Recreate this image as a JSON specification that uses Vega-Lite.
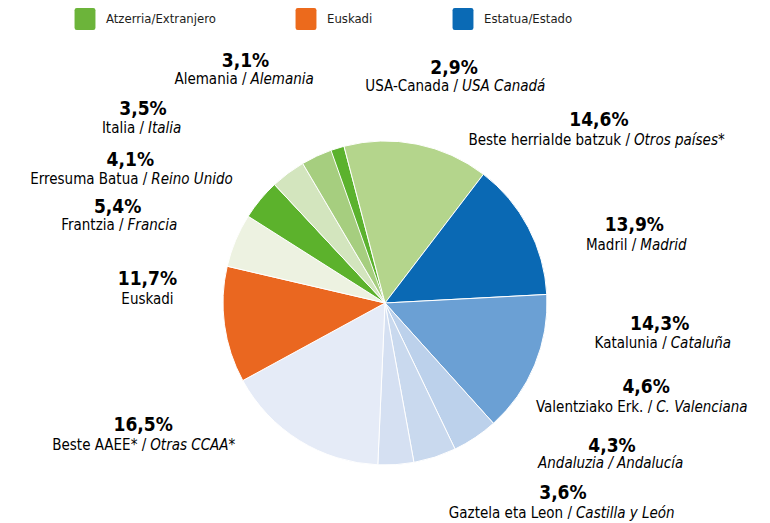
{
  "$schema": "https://vega.github.io/schema/vega-lite/v6.json",
  "width": 770,
  "height": 440,
  "autosize": {"type": "none"},
  "padding": {"top": 83, "left": 0, "right": 0, "bottom": 0},
  "background": "#ffffff",
  "config": {
    "view": {"stroke": null},
    "locale": {"number": {"decimal": ",", "thousands": ".", "grouping": [3], "currency": ["", " €"]}},
    "style": {
      "pct": {"font": "DejaVu Sans Condensed", "fontWeight": "bold", "fontSize": 19, "align": "center", "baseline": "middle", "fill": "#1d1d1b"},
      "eu": {"font": "DejaVu Sans Condensed", "fontSize": 15, "align": "right", "baseline": "middle", "fill": "#1d1d1b"},
      "es": {"font": "DejaVu Sans Condensed", "fontSize": 15, "fontStyle": "italic", "align": "left", "baseline": "middle", "fill": "#1d1d1b"}
    }
  },
  "data": {
    "values": [
      {"rank": 1, "eu": "USA-Canada", "es": "USA Canadá", "share": 2.9, "group": "Atzerria/Extranjero"},
      {"rank": 2, "eu": "Beste herrialde batzuk", "es": "Otros países*", "share": 14.6, "group": "Atzerria/Extranjero"},
      {"rank": 3, "eu": "Madril", "es": "Madrid", "share": 13.9, "group": "Estatua/Estado"},
      {"rank": 4, "eu": "Katalunia", "es": "Cataluña", "share": 14.3, "group": "Estatua/Estado"},
      {"rank": 5, "eu": "Valentziako Erk.", "es": "C. Valenciana", "share": 4.6, "group": "Estatua/Estado"},
      {"rank": 6, "eu": "Andaluzia", "es": "Andalucía", "share": 4.3, "group": "Estatua/Estado"},
      {"rank": 7, "eu": "Gaztela eta Leon", "es": "Castilla y León", "share": 3.6, "group": "Estatua/Estado"},
      {"rank": 8, "eu": "Beste AAEE*", "es": "Otras CCAA*", "share": 16.5, "group": "Estatua/Estado"},
      {"rank": 9, "eu": "Euskadi", "es": "", "share": 11.7, "group": "Euskadi"},
      {"rank": 10, "eu": "Frantzia", "es": "Francia", "share": 5.4, "group": "Atzerria/Extranjero"},
      {"rank": 11, "eu": "Erresuma Batua", "es": "Reino Unido", "share": 4.1, "group": "Atzerria/Extranjero"},
      {"rank": 12, "eu": "Italia", "es": "Italia", "share": 3.5, "group": "Atzerria/Extranjero"},
      {"rank": 13, "eu": "Alemania", "es": "Alemania", "share": 3.1, "group": "Atzerria/Extranjero"}
    ]
  },
  "transform": [
    {"stack": "share", "groupby": [], "sort": [{"field": "rank", "order": "ascending"}], "as": ["t0", "t1"]},
    {"calculate": "(datum.t0 + datum.t1) / 2", "as": "tm"},
    {"calculate": "datum.share / 100", "as": "frac"},
    {"calculate": "datum.es ? datum.eu + ' /' : datum.eu", "as": "eu_txt"}
  ],
  "layer": [
    {
      "mark": {"type": "arc", "outerRadius": 162, "stroke": "#ffffff", "strokeWidth": 1},
      "encoding": {
        "theta": {"field": "t0", "type": "quantitative", "stack": null, "scale": {"range": [-0.43633, 5.84686], "nice": false, "zero": true}},
        "theta2": {"field": "t1"},
        "fill": {
          "field": "eu", "type": "nominal", "legend": null,
          "scale": {
            "domain": ["USA-Canada", "Beste herrialde batzuk", "Madril", "Katalunia", "Valentziako Erk.", "Andaluzia", "Gaztela eta Leon", "Beste AAEE*", "Euskadi", "Frantzia", "Erresuma Batua", "Italia", "Alemania"],
            "range": ["#5bb22d", "#b4d58c", "#0a69b4", "#6ba0d4", "#bcd1eb", "#c9d9ee", "#d5e0f2", "#e5ebf7", "#ea6720", "#edf2e1", "#5cb22c", "#d3e5be", "#a6ce7f"]
          }
        }
      }
    },
    {
      "mark": {"type": "arc", "outerRadius": 162, "opacity": 0},
      "encoding": {
        "theta": {"field": "t0", "type": "quantitative", "stack": null},
        "theta2": {"field": "t1"},
        "color": {
          "field": "group", "type": "nominal",
          "scale": {"domain": ["Atzerria/Extranjero", "Euskadi", "Estatua/Estado"], "range": ["#6cb43a", "#ec6a1c", "#0a6ab5"]},
          "legend": {
            "title": null, "orient": "none", "direction": "horizontal", "legendX": 74, "legendY": -75,
            "symbolType": "M-0.75,-1H0.75Q0.95,-1 0.95,-0.8V0.8Q0.95,1 0.75,1H-0.75Q-0.95,1 -0.95,0.8V-0.8Q-0.95,-1 -0.75,-1Z",
            "symbolSize": 484, "symbolOpacity": 1, "symbolStrokeWidth": 0,
            "labelFont": "DejaVu Sans Condensed", "labelFontSize": 13, "labelColor": "#1d1d1b", "labelOffset": 10, "columnPadding": 79, "labelLimit": 300
          }
        }
      }
    },
    {"transform": [{"filter": "datum.rank == 1"}], "encoding": {"theta": {"field": "tm", "type": "quantitative"}}, "layer": [
      {"mark": {"type": "text", "style": "pct", "radius": 162, "dx": 124, "dy": -83}, "encoding": {"text": {"field": "frac", "type": "quantitative", "format": ".1%"}}},
      {"mark": {"type": "text", "style": "eu", "radius": 162, "dx": 128, "dy": -65}, "encoding": {"text": {"field": "eu_txt"}}},
      {"mark": {"type": "text", "style": "es", "radius": 162, "dx": 132, "dy": -65}, "encoding": {"text": {"field": "es"}}}
    ]},
    {"transform": [{"filter": "datum.rank == 2"}], "encoding": {"theta": {"field": "tm", "type": "quantitative"}}, "layer": [
      {"mark": {"type": "text", "style": "pct", "radius": 162, "dx": 182, "dy": -24}, "encoding": {"text": {"field": "frac", "type": "quantitative", "format": ".1%"}}},
      {"mark": {"type": "text", "style": "eu", "radius": 162, "dx": 213, "dy": -4}, "encoding": {"text": {"field": "eu_txt"}}},
      {"mark": {"type": "text", "style": "es", "radius": 162, "dx": 217, "dy": -4}, "encoding": {"text": {"field": "es"}}}
    ]},
    {"transform": [{"filter": "datum.rank == 3"}], "encoding": {"theta": {"field": "tm", "type": "quantitative"}}, "layer": [
      {"mark": {"type": "text", "style": "pct", "radius": 162, "dx": 106, "dy": -2}, "encoding": {"text": {"field": "frac", "type": "quantitative", "format": ".1%"}}},
      {"mark": {"type": "text", "style": "eu", "radius": 162, "dx": 108, "dy": 18}, "encoding": {"text": {"field": "eu_txt"}}},
      {"mark": {"type": "text", "style": "es", "radius": 162, "dx": 112, "dy": 18}, "encoding": {"text": {"field": "es"}}}
    ]},
    {"transform": [{"filter": "datum.rank == 4"}], "encoding": {"theta": {"field": "tm", "type": "quantitative"}}, "layer": [
      {"mark": {"type": "text", "style": "pct", "radius": 162, "dx": 125, "dy": -41}, "encoding": {"text": {"field": "frac", "type": "quantitative", "format": ".1%"}}},
      {"mark": {"type": "text", "style": "eu", "radius": 162, "dx": 132, "dy": -22}, "encoding": {"text": {"field": "eu_txt"}}},
      {"mark": {"type": "text", "style": "es", "radius": 162, "dx": 136, "dy": -22}, "encoding": {"text": {"field": "es"}}}
    ]},
    {"transform": [{"filter": "datum.rank == 5"}], "encoding": {"theta": {"field": "tm", "type": "quantitative"}}, "layer": [
      {"mark": {"type": "text", "style": "pct", "radius": 162, "dx": 171, "dy": -51}, "encoding": {"text": {"field": "frac", "type": "quantitative", "format": ".1%"}}},
      {"mark": {"type": "text", "style": "eu", "radius": 162, "dx": 177, "dy": -31}, "encoding": {"text": {"field": "eu_txt"}}},
      {"mark": {"type": "text", "style": "es", "radius": 162, "dx": 181, "dy": -31}, "encoding": {"text": {"field": "es"}}}
    ]},
    {"transform": [{"filter": "datum.rank == 6"}], "encoding": {"theta": {"field": "tm", "type": "quantitative"}}, "layer": [
      {"mark": {"type": "text", "style": "pct", "radius": 162, "dx": 177, "dy": -11}, "encoding": {"text": {"field": "frac", "type": "quantitative", "format": ".1%"}}},
      {"mark": {"type": "text", "style": "eu", "radius": 162, "dx": 178, "dy": 6, "fontStyle": "italic"}, "encoding": {"text": {"field": "eu_txt"}}},
      {"mark": {"type": "text", "style": "es", "radius": 162, "dx": 182, "dy": 6}, "encoding": {"text": {"field": "es"}}}
    ]},
    {"transform": [{"filter": "datum.rank == 7"}], "encoding": {"theta": {"field": "tm", "type": "quantitative"}}, "layer": [
      {"mark": {"type": "text", "style": "pct", "radius": 162, "dx": 167, "dy": 28}, "encoding": {"text": {"field": "frac", "type": "quantitative", "format": ".1%"}}},
      {"mark": {"type": "text", "style": "eu", "radius": 162, "dx": 176, "dy": 48}, "encoding": {"text": {"field": "eu_txt"}}},
      {"mark": {"type": "text", "style": "es", "radius": 162, "dx": 180, "dy": 48}, "encoding": {"text": {"field": "es"}}}
    ]},
    {"transform": [{"filter": "datum.rank == 8"}], "encoding": {"theta": {"field": "tm", "type": "quantitative"}}, "layer": [
      {"mark": {"type": "text", "style": "pct", "radius": 162, "dx": -156, "dy": -15}, "encoding": {"text": {"field": "frac", "type": "quantitative", "format": ".1%"}}},
      {"mark": {"type": "text", "style": "eu", "radius": 162, "dx": -153, "dy": 5}, "encoding": {"text": {"field": "eu_txt"}}},
      {"mark": {"type": "text", "style": "es", "radius": 162, "dx": -149, "dy": 5}, "encoding": {"text": {"field": "es"}}}
    ]},
    {"transform": [{"filter": "datum.rank == 9"}], "encoding": {"theta": {"field": "tm", "type": "quantitative"}}, "layer": [
      {"mark": {"type": "text", "style": "pct", "radius": 162, "dx": -77, "dy": -46}, "encoding": {"text": {"field": "frac", "type": "quantitative", "format": ".1%"}}},
      {"mark": {"type": "text", "style": "eu", "radius": 162, "dx": -77, "dy": -26, "align": "center"}, "encoding": {"text": {"field": "eu_txt"}}}
    ]},
    {"transform": [{"filter": "datum.rank == 10"}], "encoding": {"theta": {"field": "tm", "type": "quantitative"}}, "layer": [
      {"mark": {"type": "text", "style": "pct", "radius": 162, "dx": -118, "dy": -33}, "encoding": {"text": {"field": "frac", "type": "quantitative", "format": ".1%"}}},
      {"mark": {"type": "text", "style": "eu", "radius": 162, "dx": -112, "dy": -15}, "encoding": {"text": {"field": "eu_txt"}}},
      {"mark": {"type": "text", "style": "es", "radius": 162, "dx": -108, "dy": -15}, "encoding": {"text": {"field": "es"}}}
    ]},
    {"transform": [{"filter": "datum.rank == 11"}], "encoding": {"theta": {"field": "tm", "type": "quantitative"}}, "layer": [
      {"mark": {"type": "text", "style": "pct", "radius": 162, "dx": -130, "dy": -40}, "encoding": {"text": {"field": "frac", "type": "quantitative", "format": ".1%"}}},
      {"mark": {"type": "text", "style": "eu", "radius": 162, "dx": -113, "dy": -21}, "encoding": {"text": {"field": "eu_txt"}}},
      {"mark": {"type": "text", "style": "es", "radius": 162, "dx": -109, "dy": -21}, "encoding": {"text": {"field": "es"}}}
    ]},
    {"transform": [{"filter": "datum.rank == 12"}], "encoding": {"theta": {"field": "tm", "type": "quantitative"}}, "layer": [
      {"mark": {"type": "text", "style": "pct", "radius": 162, "dx": -145, "dy": -64}, "encoding": {"text": {"field": "frac", "type": "quantitative", "format": ".1%"}}},
      {"mark": {"type": "text", "style": "eu", "radius": 162, "dx": -144, "dy": -45}, "encoding": {"text": {"field": "eu_txt"}}},
      {"mark": {"type": "text", "style": "es", "radius": 162, "dx": -140, "dy": -45}, "encoding": {"text": {"field": "es"}}}
    ]},
    {"transform": [{"filter": "datum.rank == 13"}], "encoding": {"theta": {"field": "tm", "type": "quantitative"}}, "layer": [
      {"mark": {"type": "text", "style": "pct", "radius": 162, "dx": -71, "dy": -95}, "encoding": {"text": {"field": "frac", "type": "quantitative", "format": ".1%"}}},
      {"mark": {"type": "text", "style": "eu", "radius": 162, "dx": -70, "dy": -77}, "encoding": {"text": {"field": "eu_txt"}}},
      {"mark": {"type": "text", "style": "es", "radius": 162, "dx": -66, "dy": -77}, "encoding": {"text": {"field": "es"}}}
    ]}
  ]
}
